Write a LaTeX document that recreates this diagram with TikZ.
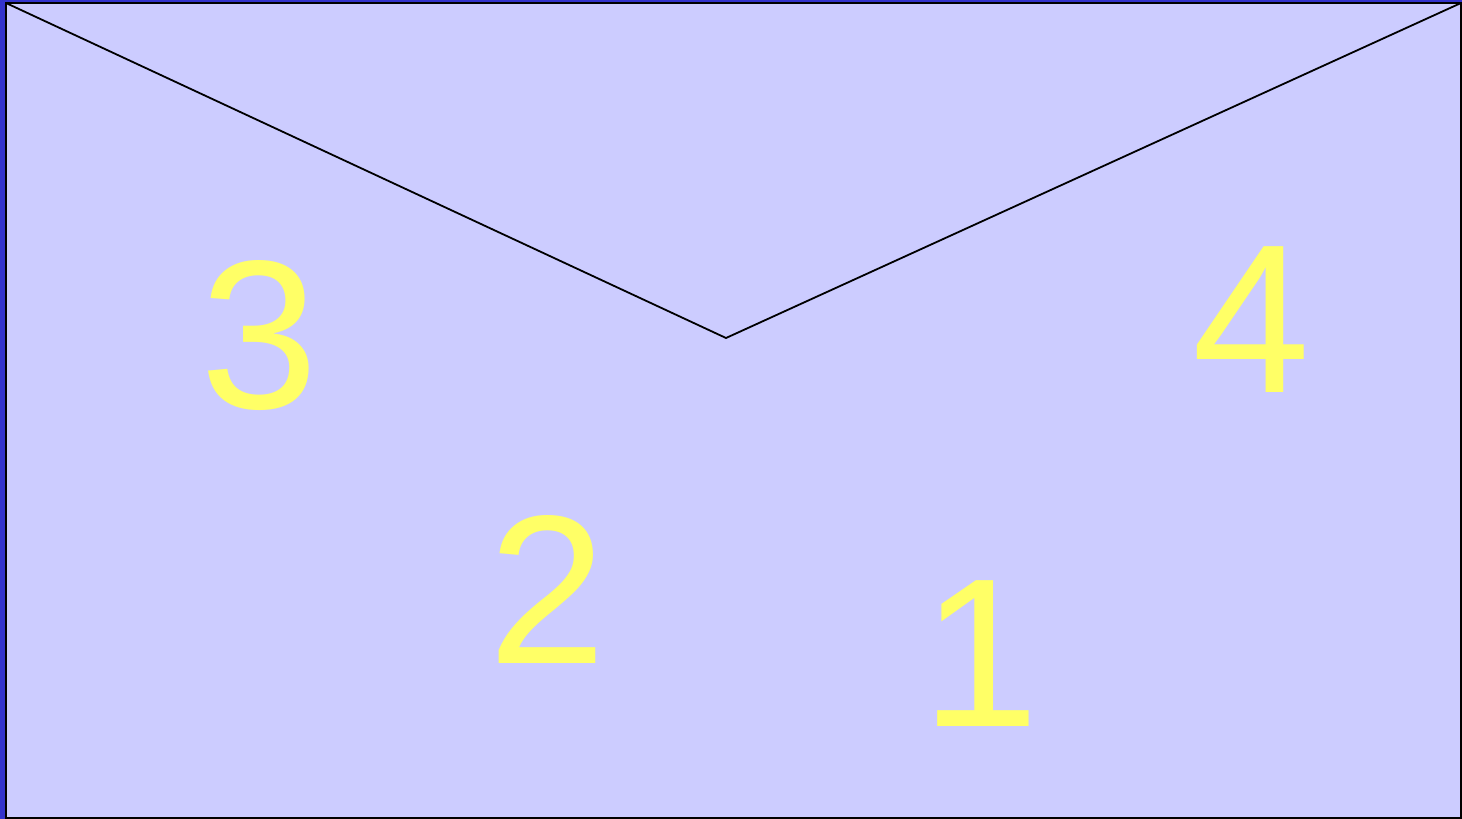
\documentclass[tikz,border=0pt]{standalone}
\usepackage{fontspec}
\setmainfont{Liberation Sans}
\definecolor{edgeblue}{RGB}{51, 51, 204}
\definecolor{paperlilac}{RGB}{204, 204, 255}
\definecolor{digityellow}{RGB}{255, 255, 102}
\usepackage{tikz}
\usetikzlibrary{positioning}

\begin{document}
\begin{tikzpicture}[x=0.5pt, y=-0.5pt,
    digit/.style={text=digityellow, anchor=base, inner sep=0pt,
                  font=\fontsize{106}{127}\selectfont}]
    % background and envelope body
    \fill[edgeblue] (0, 0) rectangle (1462, 819);
    \draw[black, line width=0.75pt, fill=paperlilac] (6, 3) rectangle (1461, 818);
    % flap
    \coordinate (tl) at (6, 3);
    \coordinate (tip) at (726, 338);
    \coordinate (tr) at (1461, 3);
    \draw[black, line width=0.9pt, line join=round] (tl) -- (tip) -- (tr);
    % numbers
    \foreach \n/\x/\y in {3/259/408, 4/1251/392, 2/547/663, 1/980/726} {
        \node[digit] (num\n) at (\x, \y) {\n};
    }
\end{tikzpicture}
\end{document}
